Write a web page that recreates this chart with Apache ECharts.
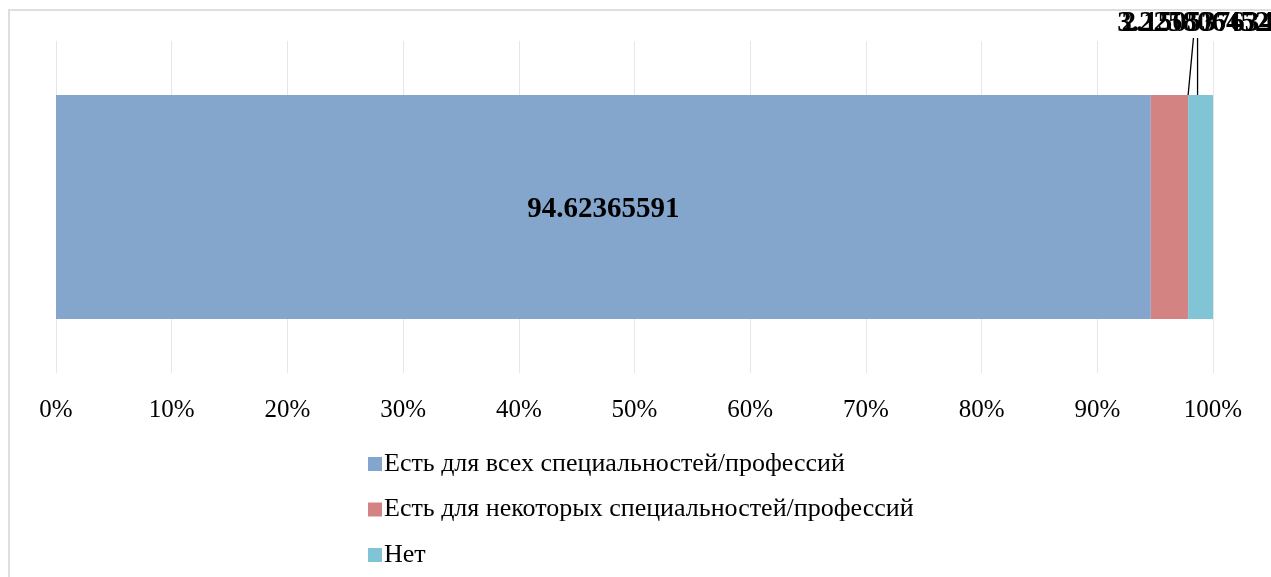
<!DOCTYPE html>
<html>
<head>
<meta charset="utf-8">
<script src="https://cdn.jsdelivr.net/npm/echarts@6/dist/echarts.min.js"></script>
<style>
  html, body { margin: 0; padding: 0; background: #fff; }
  #frame {
    position: absolute; left: 8px; top: 9px;
    width: 1300px; height: 600px;
    border: 2px solid #dedede;
  }
  #chart { position: absolute; left: 0; top: 0; width: 1271px; height: 577px; }
</style>
</head>
<body>
<div id="frame"></div>
<div id="chart"></div>
<script>
// данные
var categories = ['1'];
var seriesNames = [
    'Есть для всех специальностей/профессий',
    'Есть для некоторых специальностей/профессий',
    'Нет'
];
var seriesValues = [94.62365591, 3.225806452, 2.150537634];
var seriesColors = ['#84a6cd', '#d38382', '#81c4d6'];

var chartDom = document.getElementById('chart');
var myChart = echarts.init(chartDom);
var option;

var font = '"Liberation Serif", "Times New Roman", serif';
// сдвиг подписей маленьких сегментов
var labelShift = [null, { dx: 24, dy: -52 }, { dx: -3, dy: -52 }];

var series = seriesNames.map(function (name, i) {
    var small = i > 0;
    return {
        name: name,
        type: 'bar',
        stack: 'total',
        barWidth: '67.5%',
        data: [seriesValues[i]],
        itemStyle: { color: seriesColors[i] },
        label: {
            show: true,
            position: small ? 'top' : 'inside',
            offset: small ? [0, 0] : [0, 3],
            distance: 5,
            formatter: function (p) { return String(p.value); },
            fontFamily: font,
            fontWeight: 'bold',
            fontSize: 29,
            color: '#000'
        },
        labelLayout: small ? { dx: labelShift[i].dx, dy: labelShift[i].dy, hideOverlap: false } : null,
        labelLine: small ? { show: true, lineStyle: { color: '#000', width: 1.3 } } : { show: false }
    };
});

option = {
    animation: false,
    grid: {
        left: 56,
        right: 58,
        top: 41,
        bottom: 204
    },
    xAxis: {
        type: 'value',
        min: 0,
        max: 100,
        interval: 10,
        axisLine: { show: false },
        axisTick: { show: false },
        splitLine: { show: true, lineStyle: { color: '#e6e6e6', width: 1 } },
        axisLabel: {
            formatter: '{value}%',
            margin: 25,
            fontFamily: font,
            fontSize: 25,
            color: '#000'
        }
    },
    yAxis: {
        type: 'category',
        data: categories,
        show: false
    },
    legend: {
        orient: 'vertical',
        left: 363,
        top: 446,
        itemWidth: 14,
        itemHeight: 14,
        itemGap: 19.5,
        icon: 'rect',
        textStyle: {
            fontFamily: font,
            fontSize: 26,
            color: '#000',
            padding: [0, 0, 0, -3]
        },
        data: seriesNames
    },
    series: series
};
option && myChart.setOption(option);
</script>
</body>
</html>
